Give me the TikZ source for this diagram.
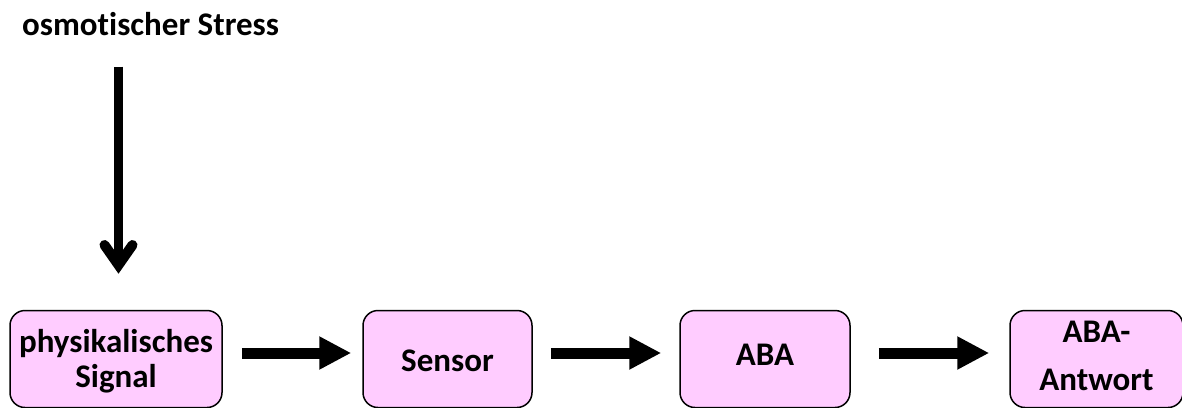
\documentclass[tikz,border=0pt]{standalone}
\usepackage{fontspec}
\setmainfont[Ligatures={NoCommon}]{Carlito}
\usetikzlibrary{arrows.meta}
\definecolor{boxpink}{HTML}{FFCCFF}
\tikzset{
  stepbox/.style={draw=black, line width=1.5pt, fill=boxpink, rounded corners=15pt,
    inner sep=0pt, text height=0pt, text depth=0pt, minimum height=97pt,
    font=\fontsize{33}{35}\selectfont\bfseries},
  blockarrow/.style={line width=11pt, -{Triangle[width=31pt,length=32pt]}},
  titletext/.style={font=\fontsize{33}{35}\selectfont\bfseries, inner sep=0pt, anchor=west}
}
\begin{document}
\begin{tikzpicture}[x=1pt,y=-1pt]
\useasboundingbox (0,0) rectangle (1182,407);
\clip (0,0) rectangle (1182,407);
\node[titletext] (stress) at (22,24) {osmotischer Stress};
\node[stepbox, minimum width=212pt] (b1) at (116,359) {\raisebox{7pt}{\begin{tabular}[t]{@{}c@{}}physikalisches\\Signal\end{tabular}}};
\node[stepbox, minimum width=169pt] (b2) at (447.5,359) {\raisebox{-12.5pt}{Sensor}};
\node[stepbox, minimum width=170pt] (b3) at (765,359) {\raisebox{-6pt}{ABA}};
\node[stepbox, minimum width=173pt] (b4) at (1096.5,359) {\raisebox{17pt}{\begin{tabular}[t]{@{}c@{}}ABA-\\[13pt]Antwort\end{tabular}}};
\coordinate (top) at (118.5,66.5);
\coordinate (vtx) at (118.5,265);
\coordinate (la) at (104.5,245);
\coordinate (ra) at (132.5,245);
\draw[line width=8.5pt] (top) -- (vtx);
\draw[line width=10pt, line cap=round, line join=miter] (la) -- (vtx) -- (ra);
\draw[blockarrow, shorten <=19pt, shorten >=11pt] ([yshift=6pt]b1.east) -- ([yshift=6pt]b2.west);
\draw[blockarrow, shorten <=18pt, shorten >=18pt] ([yshift=6pt]b2.east) -- ([yshift=6pt]b3.west);
\draw[blockarrow, shorten <=28pt, shorten >=20pt] ([yshift=6pt]b3.east) -- ([yshift=6pt]b4.west);
\end{tikzpicture}
\end{document}
